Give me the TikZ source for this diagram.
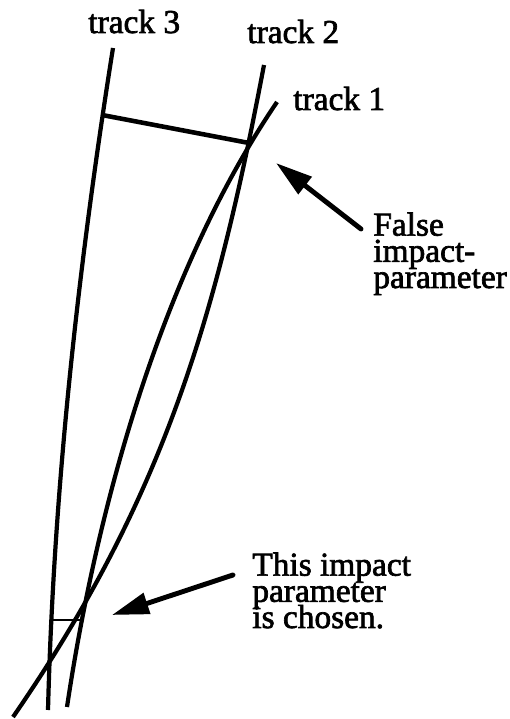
\documentclass[tikz,border=0pt]{standalone}
\usepackage{fontspec}
\setmainfont{Liberation Serif}[FakeBold=2]
\usetikzlibrary{arrows.meta}
\newcommand\tagfont{\fontsize{19}{14.9}\selectfont\lineskiplimit=-20pt\relax}
\tikzset{
	track/.style={draw=black,line width=2.4pt},
	gap/.style={draw=black,line width=2.6pt},
	pointer/.style={draw=black,line width=2.8pt,line cap=round,
		-{Triangle[length=21pt,width=12pt]}},
	tag/.style={inner sep=0pt,anchor=base west,font=\tagfont},
	note/.style={tag,align=left},
}

\begin{document}
\begin{tikzpicture}
	\useasboundingbox (0,0) rectangle (10.2,14.38);
	% track ends
	\coordinate (s3) at (2.26,13.42);
	\coordinate (e3) at (0.96,0.18);
	\coordinate (s2) at (5.28,13.08);
	\coordinate (e2) at (0.26,0.04);
	\coordinate (s1) at (5.54,12.34);
	\coordinate (e1) at (1.34,0.24);
	% crossings
	\coordinate (fp) at (4.98,11.52);
	\coordinate (f3) at (2.04,12.08);
	\coordinate (tp) at (1.60,1.98);
	\coordinate (t3) at (1.02,1.98);
	\draw[track] (s3) .. controls (1.56,9.02) and (1.074,4.58) .. (e3);
	\draw[track] (s2) .. controls (4.33,8.08) and (3.30,4.44) .. (e2);
	\draw[track] (s1) .. controls (3.23,8.94) and (1.94,4.24) .. (e1);
	\draw[gap] (f3)--(fp);
	\draw[gap,line width=1.5pt] (t3)--(tp);
	% labels (base of a note is its last line)
	\node[tag] (lab3) at (1.76,13.72) {track 3};
	\node[tag] (lab2) at (4.94,13.52) {track 2};
	\node[tag] (lab1) at (5.86,12.18) {track 1};
	\node[note] (false) at (7.46,8.62) {False\\impact-\\parameter};
	\node[note] (true) at (5.04,1.82) {This impact\\parameter\\is chosen.};
	% arrows
	\coordinate (fa) at (7.22,9.80);
	\coordinate (fb) at (5.52,11.12);
	\coordinate (ta) at (4.66,2.88);
	\coordinate (tb) at (2.24,2.08);
	\draw[pointer] (fa)--(fb);
	\draw[pointer] (ta)--(tb);
\end{tikzpicture}
\end{document}
